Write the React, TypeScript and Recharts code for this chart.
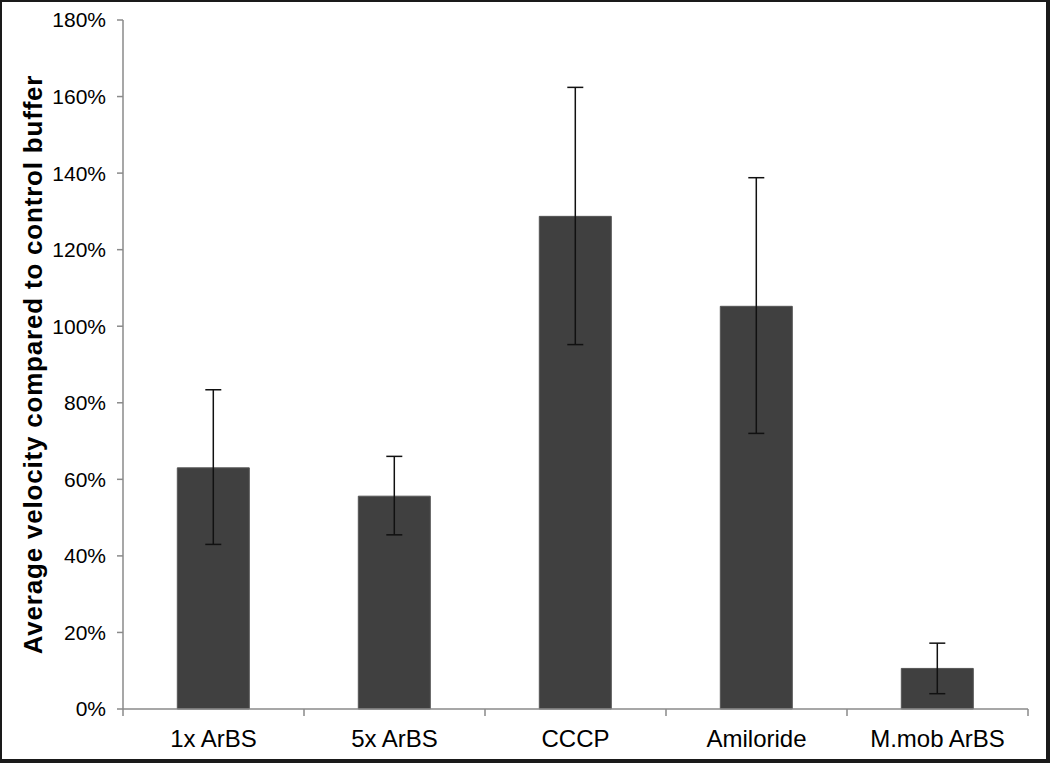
import React from 'react';
import { BarChart, Bar, XAxis, YAxis, ErrorBar } from 'recharts';

const categories = ['1x ArBS', '5x ArBS', 'CCCP', 'Amiloride', 'M.mob ArBS'];
const means = [63.0, 55.6, 128.7, 105.2, 10.6];
const lows = [43.0, 45.5, 95.2, 72.0, 4.0];
const highs = [83.4, 66.0, 162.4, 138.8, 17.2];
const yTicks = [0, 20, 40, 60, 80, 100, 120, 140, 160, 180];

const data = categories.map((c, i) => ({
  name: c,
  value: means[i],
  err: [means[i] - lows[i], highs[i] - means[i]],
}));

const FONT = '"Liberation Sans", Arial, sans-serif';
const AXIS_COLOR = '#8a8a8a';
const X_TICK_SIZE = 7;
const X_TICK_MARGIN = 14;

const YLabel = (props: any) => {
  const vb = props.viewBox || {};
  const cy = (vb.y ?? 20) + (vb.height ?? 689) / 2;
  const cx = 33;
  return (
    <text
      x={cx}
      y={cy}
      transform={`rotate(-90, ${cx}, ${cy})`}
      textAnchor="middle"
      dominantBaseline="central"
      fontFamily={FONT}
      fontWeight="bold"
      fontSize={26}
      letterSpacing={0.8}
      fill="#000"
    >
      Average velocity compared to control buffer
    </text>
  );
};

const XTick = (props: any) => {
  const { x, y, payload, index, visibleTicksCount } = props;
  const half = payload?.offset ?? 0;
  const axisY = y - X_TICK_SIZE - X_TICK_MARGIN;
  const isLast = index === visibleTicksCount - 1;
  return (
    <g>
      <line x1={x - half} x2={x - half} y1={axisY} y2={axisY + X_TICK_SIZE} stroke={AXIS_COLOR} strokeWidth={1.5} />
      {isLast && (
        <line x1={x + half} x2={x + half} y1={axisY} y2={axisY + X_TICK_SIZE} stroke={AXIS_COLOR} strokeWidth={1.5} />
      )}
      <text x={x} y={y} dy="0.71em" textAnchor="middle" fill="#000" fontSize={24} fontFamily={FONT}>
        {payload.value}
      </text>
    </g>
  );
};

export default function App() {
  return (
    <div style={{ position: 'absolute', left: 0, top: 0, width: 1050, height: 763, background: '#fff' }}>
      <BarChart
        width={1050}
        height={763}
        data={data}
        margin={{ top: 20, right: 22, bottom: 0, left: 0 }}
        barCategoryGap="30%"
      >
        <XAxis
          dataKey="name"
          type="category"
          height={54}
          tickLine={false}
          axisLine={{ stroke: AXIS_COLOR, strokeWidth: 1.5 }}
          tickSize={X_TICK_SIZE}
          tickMargin={X_TICK_MARGIN}
          interval={0}
          tick={<XTick />}
        />
        <YAxis
          width={123}
          domain={[0, 180]}
          ticks={yTicks}
          interval={0}
          tickFormatter={(v: number) => `${v}%`}
          axisLine={{ stroke: AXIS_COLOR, strokeWidth: 1.5 }}
          tickLine={{ stroke: AXIS_COLOR, strokeWidth: 1.5 }}
          tickSize={6}
          tickMargin={11}
          tick={{ fill: '#000', fontSize: 21, fontFamily: FONT }}
          label={<YLabel />}
        />
        <Bar
          dataKey="value"
          fill="#404040"
          stroke="#555"
          strokeWidth={1}
          isAnimationActive={false}
        >
          <ErrorBar dataKey="err" width={8} stroke="#111" strokeWidth={1.5} isAnimationActive={false} />
        </Bar>
      </BarChart>
      <div
        style={{
          position: 'absolute',
          left: 0,
          top: 0,
          width: 1050,
          height: 763,
          boxSizing: 'border-box',
          borderTop: '2px solid #1a1a1a',
          borderLeft: '2px solid #1a1a1a',
          borderRight: '4px solid #1a1a1a',
          borderBottom: '4px solid #1a1a1a',
          pointerEvents: 'none',
        }}
      />
    </div>
  );
}
